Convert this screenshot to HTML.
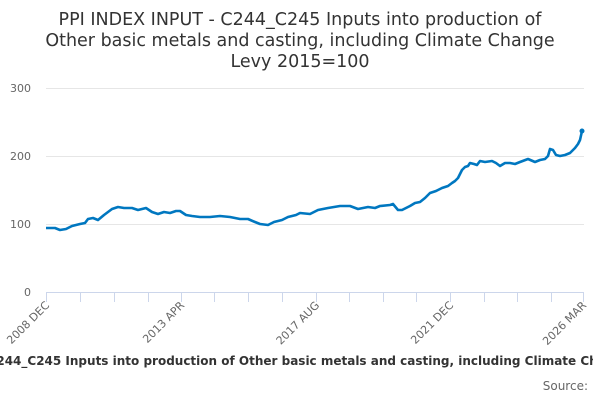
<!DOCTYPE html>
<html><head><meta charset="utf-8"><style>
body{margin:0;width:600px;height:400px;background:#fff;overflow:hidden;font-family:"DejaVu Sans",sans-serif;}
</style></head><body>
<svg width="600" height="400" xmlns="http://www.w3.org/2000/svg" font-family="DejaVu Sans, sans-serif">
<defs><clipPath id="c"><rect x="0" y="340" width="593" height="40"/></clipPath></defs>
<g fill="#333" font-size="17.5" text-anchor="middle">
<text x="300" y="25">PPI INDEX INPUT - C244_C245 Inputs into production of</text>
<text x="300" y="46">Other basic metals and casting, including Climate Change</text>
<text x="300" y="67">Levy 2015=100</text>
</g>
<g stroke="#e6e6e6" stroke-width="1">
<line x1="46" x2="584" y1="88.5" y2="88.5"/>
<line x1="46" x2="584" y1="156.5" y2="156.5"/>
<line x1="46" x2="584" y1="224.5" y2="224.5"/>
</g>
<line x1="46" x2="584" y1="292.5" y2="292.5" stroke="#ccd6eb"/>
<g stroke="#ccd6eb">
<line x1="46.5" x2="46.5" y1="292" y2="302"/><line x1="80.5" x2="80.5" y1="292" y2="302"/><line x1="114.5" x2="114.5" y1="292" y2="302"/><line x1="148.5" x2="148.5" y1="292" y2="302"/><line x1="181.5" x2="181.5" y1="292" y2="302"/><line x1="214.5" x2="214.5" y1="292" y2="302"/><line x1="248.5" x2="248.5" y1="292" y2="302"/><line x1="282.5" x2="282.5" y1="292" y2="302"/><line x1="316.5" x2="316.5" y1="292" y2="302"/><line x1="349.5" x2="349.5" y1="292" y2="302"/><line x1="383.5" x2="383.5" y1="292" y2="302"/><line x1="416.5" x2="416.5" y1="292" y2="302"/><line x1="450.5" x2="450.5" y1="292" y2="302"/><line x1="484.5" x2="484.5" y1="292" y2="302"/><line x1="517.5" x2="517.5" y1="292" y2="302"/><line x1="551.5" x2="551.5" y1="292" y2="302"/><line x1="583.5" x2="583.5" y1="292" y2="302"/>
</g>
<g fill="#666" font-size="11" text-anchor="end">
<text x="31" y="92">300</text><text x="31" y="160">200</text><text x="31" y="228">100</text><text x="31" y="296">0</text>
</g>
<g fill="#666" font-size="11" text-anchor="end">
<text transform="translate(50,306) rotate(-45)">2008 DEC</text>
<text transform="translate(185,306) rotate(-45)">2013 APR</text>
<text transform="translate(320,306) rotate(-45)">2017 AUG</text>
<text transform="translate(454,306) rotate(-45)">2021 DEC</text>
<text transform="translate(587,306) rotate(-45)">2026 MAR</text>
</g>
<polyline fill="none" stroke="#0077c0" stroke-width="2.6" stroke-linejoin="round" points="46,228 55,228 60,230 66,229 72,226 80,224 85,223 88,219 93,218 98,220 104,215 112,209 118,207 124,208 132,208 138,210 146,208 152,212 158,214 164,212 170,213 176,211 180,211 186,215 192,216 200,217 210,217 220,216 230,217 240,219 248,219 255,222 260,224 268,225 274,222 282,220 288,217 296,215 300,213 310,214 318,210 328,208 340,206 350,206 358,209 368,207 375,208 380,206 390,205 393,204 398,210 402,210 410,206 415,203 420,202 425,198 430,193 436,191 442,188 448,186 452,183 455,181 458,178 462,170 465,167 468,166 470,163 474,164 477,165 480,161 485,162 492,161 496,163 500,166 505,163 510,163 515,164 520,162 528,159 535,162 540,160 545,159 548,156 550,149 553,150 556,155 560,156 565,155 570,153 575,148 578,144 580,140 582,131"/>
<circle cx="582" cy="131" r="2.5" fill="#0077c0"/>
<text clip-path="url(#c)" x="300" y="365" text-anchor="middle" font-size="12" font-weight="bold" fill="#333">PPI INDEX INPUT - C244_C245 Inputs into production of Other basic metals and casting, including Climate Change Levy 2015=100</text>
<text x="588" y="390" text-anchor="end" font-size="12" fill="#666">Source:</text>
</svg>
</body></html>
